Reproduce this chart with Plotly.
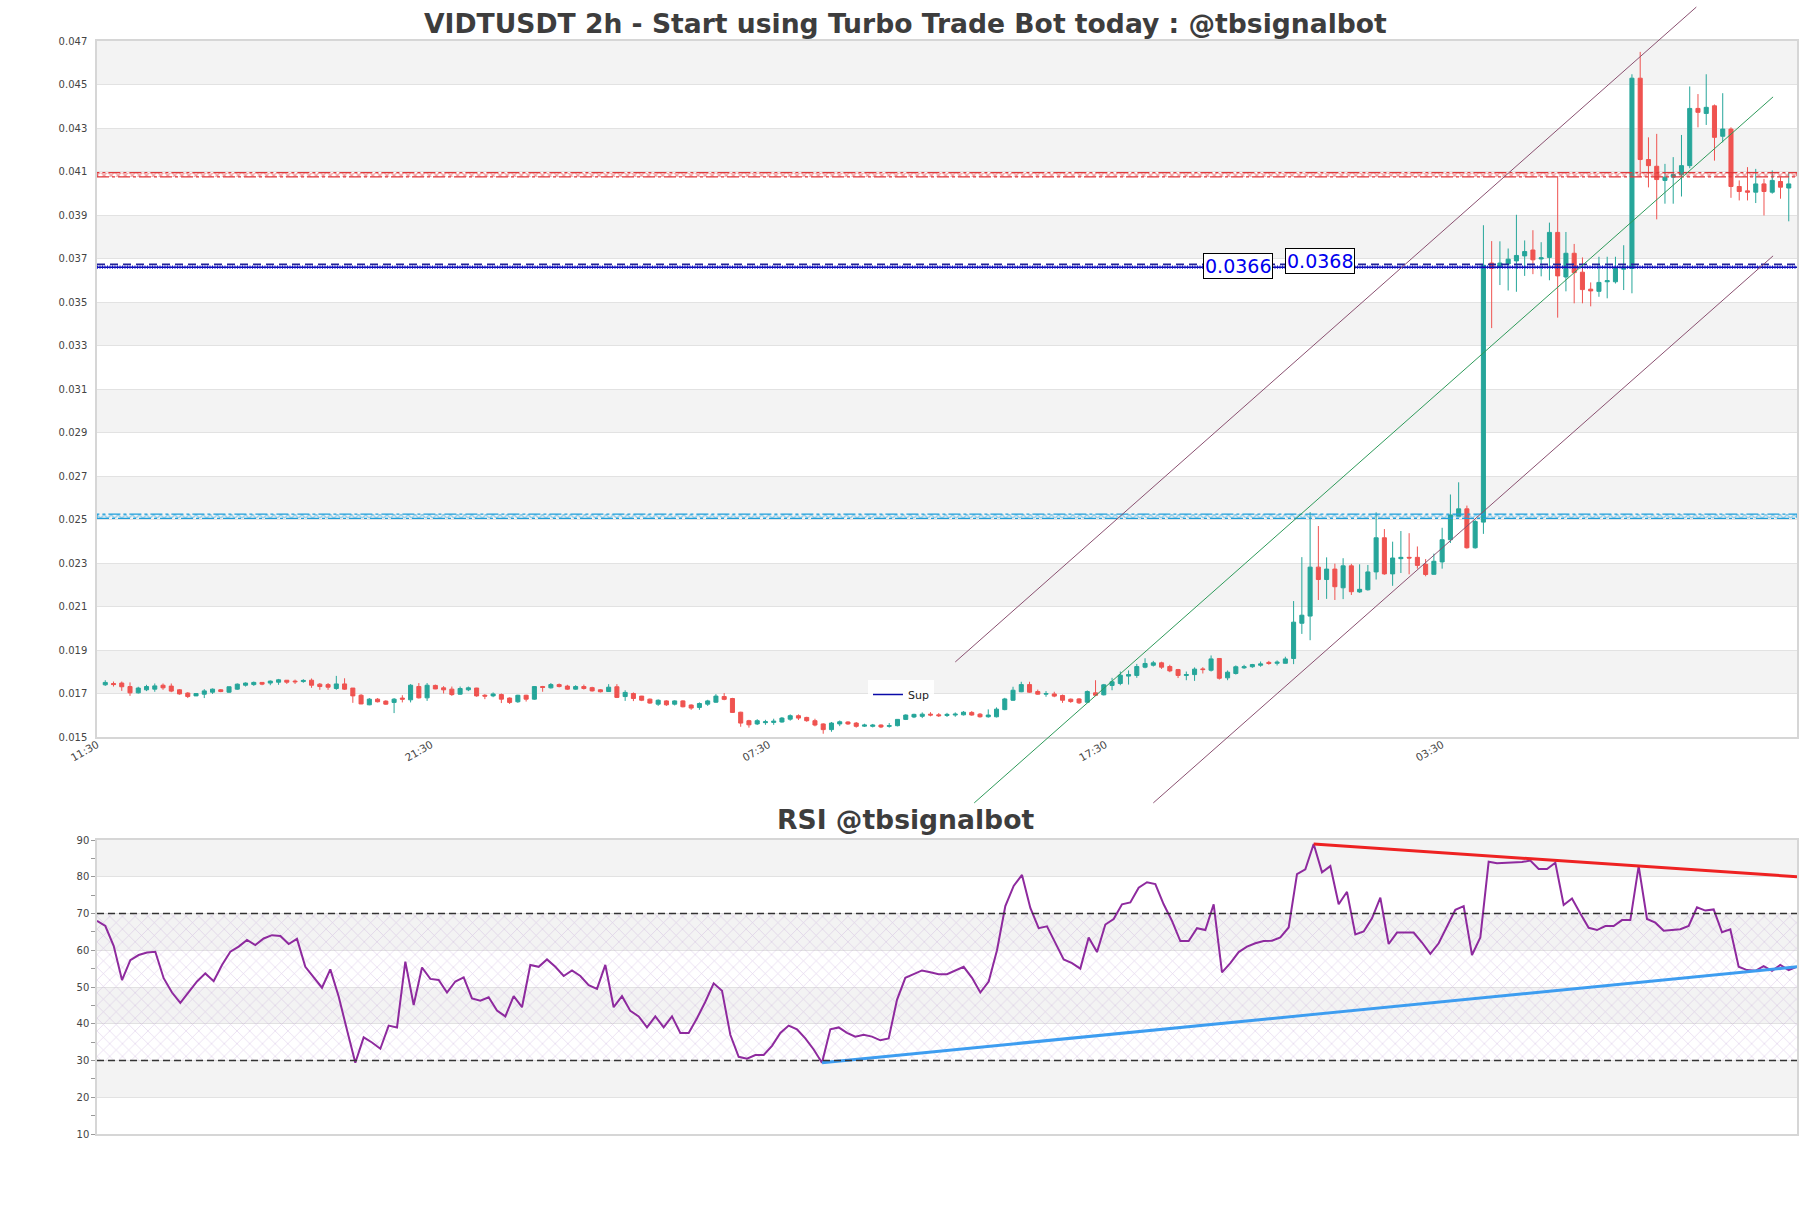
import plotly.graph_objects as go

W, H = 1811, 1208
FONT = "DejaVu Sans"
GREEN, RED = "#26a69a", "#ef5350"

# ---------------- data ----------------
opens = [.01740,.01746,.01748,.01732,.01703,.01717,.01720,.01738,.01734,.01717,
         .01702,.01689,.01697,.01706,.01717,.01706,.01720,.01738,.01741,.01751,
         .01748,.01752,.01761,.01757,.01755,.01761,.01743,.01741,.01723,.01744,
         .01725,.01692,.01648,.01674,.01665,.01659,.01679,.01671,.01732,.01680,
         .01737,.01726,.01720,.01697,.01717,.01725,.01692,.01689,.01695,.01679,
         .01662,.01692,.01674,.01732,.01726,.01741,.01734,.01720,.01732,.01727,
         .01717,.01709,.01731,.01686,.01700,.01688,.01674,.01651,.01666,.01651,
         .01666,.01647,.01636,.01651,.01660,.01686,.01677,.01614,.01575,.01560,
         .01566,.01567,.01569,.01582,.01598,.01590,.01575,.01560,.01534,.01560,
         .01569,.01564,.01550,.01549,.01555,.01549,.01552,.01581,.01592,.01595,
         .01605,.01602,.01599,.01601,.01602,.01613,.01605,.01593,.01593,.01626,
         .01669,.01708,.01741,.01709,.01697,.01698,.01691,.01674,.01675,.01660,
         .01703,.01694,.01737,.01746,.01780,.01783,.01821,.01830,.01841,.01824,
         .01810,.01783,.01787,.01813,.01807,.01861,.01772,.01792,.01818,.01823,
         .01830,.01843,.01839,.01839,.01861,.02023,.02056,.02281,.02224,.02272,
         .02186,.02287,.02167,.02177,.02259,.02416,.02250,.02320,.02326,.02326,
         .02294,.02248,.02305,.02407,.02515,.02549,.02370,.02488,.03679,.03659,
         .03675,.03689,.03712,.03739,.03698,.03705,.03820,.03615,.03724,.03637,
         .03559,.03549,.03593,.03593,.03651,.03654,.04529,.04155,.04124,.04059,
         .04074,.04085,.04127,.04390,.04367,.04402,.04262,.04295,.04031,.04011,
         .04005,.04043,.04005,.04054,.04024]
highs = [.01761,.01755,.01755,.01751,.01731,.01740,.01746,.01746,.01746,.01720,
         .01706,.01700,.01720,.01723,.01720,.01732,.01746,.01751,.01755,.01752,
         .01760,.01767,.01761,.01764,.01766,.01769,.01748,.01748,.01781,.01770,
         .01725,.01697,.01679,.01679,.01669,.01679,.01692,.01743,.01748,.01748,
         .01741,.01734,.01732,.01732,.01732,.01726,.01697,.01705,.01700,.01682,
         .01694,.01694,.01734,.01735,.01748,.01746,.01740,.01738,.01741,.01731,
         .01720,.01743,.01743,.01715,.01705,.01689,.01677,.01673,.01669,.01669,
         .01669,.01650,.01659,.01671,.01697,.01702,.01680,.01616,.01579,.01582,
         .01579,.01584,.01592,.01604,.01604,.01593,.01584,.01563,.01569,.01576,
         .01572,.01569,.01561,.01560,.01558,.01564,.01582,.01604,.01607,.01613,
         .01614,.01610,.01611,.01613,.01619,.01619,.01610,.01627,.01636,.01680,
         .01731,.01754,.01754,.01718,.01711,.01708,.01695,.01677,.01679,.01714,
         .01761,.01744,.01772,.01801,.01806,.01836,.01862,.01850,.01846,.01832,
         .01813,.01801,.01820,.01821,.01875,.01862,.01806,.01829,.01832,.01836,
         .01847,.01850,.01852,.01869,.02125,.02327,.02534,.02470,.02326,.02297,
         .02322,.02296,.02294,.02291,.02533,.02456,.02398,.02447,.02437,.02376,
         .02318,.02343,.02462,.02615,.02671,.02564,.02498,.03853,.03780,.03779,
         .03746,.03901,.03783,.03830,.03775,.03865,.04074,.03822,.03767,.03705,
         .03590,.03708,.03708,.03708,.03761,.04547,.04650,.04257,.04273,.04135,
         .04166,.04268,.04491,.04456,.04547,.04408,.04460,.04303,.04059,.04120,
         .04112,.04066,.04105,.04074,.04097]
lows = [.01735,.01732,.01712,.01689,.01700,.01711,.01708,.01717,.01706,.01695,
        .01679,.01688,.01679,.01698,.01706,.01703,.01717,.01732,.01735,.01738,
        .01738,.01740,.01744,.01744,.01749,.01726,.01717,.01717,.01717,.01717,
        .01657,.01651,.01646,.01659,.01648,.01610,.01659,.01659,.01677,.01666,
        .01720,.01700,.01689,.01695,.01711,.01685,.01674,.01683,.01656,.01652,
        .01657,.01663,.01671,.01708,.01723,.01728,.01717,.01718,.01718,.01709,
        .01705,.01708,.01679,.01666,.01665,.01665,.01653,.01643,.01643,.01645,
        .01636,.01625,.01625,.01643,.01657,.01669,.01611,.01547,.01543,.01555,
        .01556,.01556,.01566,.01575,.01578,.01570,.01549,.01515,.01524,.01550,
        .01556,.01543,.01546,.01544,.01541,.01543,.01549,.01578,.01587,.01587,
        .01595,.01592,.01592,.01593,.01599,.01598,.01589,.01589,.01590,.01623,
        .01666,.01706,.01703,.01695,.01685,.01683,.01657,.01657,.01652,.01657,
        .01688,.01691,.01715,.01738,.01741,.01772,.01816,.01824,.01813,.01798,
        .01771,.01761,.01758,.01792,.01801,.01764,.01761,.01787,.01813,.01818,
        .01823,.01832,.01829,.01838,.01835,.01974,.01945,.02130,.02135,.02130,
        .02134,.02153,.02163,.02173,.02224,.02246,.02195,.02254,.02248,.02274,
        .02239,.02247,.02274,.02392,.02515,.02366,.02366,.02434,.03380,.03578,
        .03553,.03547,.03620,.03628,.03618,.03600,.03428,.03549,.03494,.03494,
        .03480,.03524,.03517,.03585,.03555,.03540,.04074,.04027,.03880,.03952,
        .03952,.03985,.04115,.04303,.04314,.04150,.04234,.03979,.03967,.03967,
        .03955,.03898,.03998,.03975,.03871]
closes = [.01751,.01741,.01731,.01703,.01725,.01732,.01735,.01726,.01711,.01698,
          .01686,.01700,.01712,.01720,.01709,.01731,.01743,.01748,.01751,.01743,
          .01757,.01763,.01752,.01754,.01760,.01738,.01732,.01729,.01744,.01720,
          .01689,.01652,.01674,.01662,.01651,.01674,.01674,.01738,.01680,.01738,
          .01721,.01717,.01695,.01723,.01726,.01689,.01688,.01698,.01674,.01659,
          .01692,.01674,.01732,.01728,.01741,.01732,.01720,.01732,.01723,.01712,
          .01708,.01729,.01682,.01705,.01677,.01669,.01656,.01669,.01648,.01666,
          .01639,.01633,.01654,.01666,.01688,.01673,.01613,.01564,.01556,.01575,
          .01570,.01573,.01587,.01598,.01587,.01575,.01555,.01534,.01564,.01570,
          .01560,.01549,.01555,.01555,.01546,.01552,.01581,.01601,.01604,.01605,
          .01601,.01598,.01604,.01605,.01614,.01601,.01593,.01601,.01628,.01675,
          .01715,.01741,.01706,.01697,.01700,.01688,.01669,.01663,.01657,.01709,
          .01692,.01740,.01754,.01784,.01787,.01824,.01838,.01841,.01821,.01804,
          .01783,.01787,.01812,.01810,.01859,.01770,.01798,.01823,.01823,.01833,
          .01836,.01838,.01844,.01859,.02028,.02060,.02281,.02224,.02272,.02191,
          .02287,.02168,.02179,.02259,.02416,.02250,.02323,.02326,.02323,.02289,
          .02247,.02308,.02407,.02521,.02549,.02370,.02491,.03669,.03655,.03679,
          .03697,.03714,.03732,.03694,.03703,.03820,.03620,.03724,.03635,.03557,
          .03551,.03590,.03598,.03654,.03654,.04529,.04155,.04127,.04063,.04074,
          .04086,.04127,.04390,.04372,.04395,.04257,.04295,.04031,.04008,.04005,
          .04043,.04008,.04059,.04028,.04043]
rsi = [68.0,66.6,61.2,51.9,57.3,58.7,59.4,59.6,52.4,48.5,45.7,48.5,51.5,53.7,51.6,
       56.0,59.6,61.0,62.8,61.4,63.2,64.1,63.9,61.7,63.1,55.5,52.8,49.8,54.8,47.4,
       38.3,29.4,36.3,34.9,33.2,39.5,39.0,56.9,45.1,55.3,52.2,51.9,48.5,51.5,52.6,
       46.9,46.3,47.2,43.6,
       42.0,47.5,44.5,56.0,55.5,57.5,55.5,53.0,54.5,53.0,50.5,49.5,56.0,44.5,47.5,
       43.5,42.0,39.0,42.0,39.0,42.0,37.5,37.5,41.5,46.0,51.0,49.0,37.0,31.0,30.5,
       31.5,31.5,34.0,37.5,39.5,38.5,36.0,33.0,29.4,
       38.5,39.0,37.5,36.5,37.0,36.5,35.5,36.0,46.5,52.5,53.5,54.5,54.0,53.5,53.5,
       54.5,55.5,52.5,48.5,51.5,60.0,72.0,77.5,80.5,71.5,66.0,66.5,62.0,57.5,56.5,
       55.0,63.5,59.5,67.0,68.5,72.5,73.0,77.0,78.5,78.0,72.5,68.0,62.5,62.5,66.0,
       65.5,72.5,54.0,56.5,59.5,
       61.0,61.9,62.5,62.6,63.5,66.2,80.7,82.0,88.9,
       81.2,82.9,72.5,75.9,64.3,65.1,68.7,74.3,61.7,64.8,64.8,64.8,62.1,59.0,61.9,
       66.4,71.0,72.0,58.7,63.5,84.1,
       83.7,83.8,83.8,84.0,84.4,82.1,82.1,83.8,72.3,74.1,70.0,66.1,65.5,66.6,66.6,
       68.2,68.2,82.9,68.5,67.5,65.3,65.5,65.7,66.6,71.7,70.8,71.1,64.9,65.7,55.5,
       54.6,54.4,55.7,54.4,56.0,54.6,55.5]
idx = list(range(len(closes)))

tick_pos = [-0.98, 39.5, 80.4, 121.2, 162.0]
tick_text = ["11:30", "21:30", "07:30", "17:30", "03:30"]
price_ticks = [0.015 + 0.002 * k for k in range(17)]
rsi_ticks = [10, 20, 30, 40, 50, 60, 70, 80, 90]

res_level = 0.04085          # red zone
sup_zone = 0.02515           # cyan zone
sup_dashed = 0.03673         # blue dashed
sup_dotted = 0.03660         # blue dotted ("Sup")
label_texts = ["0.0366", "0.0368"]
label_x = [137.3, 147.2]

chan_up_x, chan_up_y = [103.0, 192.8], [0.01845, 0.04856]
chan_mid_x, chan_mid_y = [105.3, 202.1], [0.01197, 0.04443]
chan_lo_x, chan_lo_y = [127.0, 202.1], [0.01197, 0.03712]

rsi_res_x, rsi_res_y = [146, 204], [88.9, 80.0]
rsi_sup_x, rsi_sup_y = [87, 204], [29.4, 55.5]

# ---------------- geometry ----------------
PX_L, PX_R = 97, 1797
MAIN_T, MAIN_B = 41, 737
RSI_T, RSI_B = 840, 1134
XR = [-1, 205]
YR = [0.015, 0.047]
xd = [PX_L / W, PX_R / W]
yd_main = [1 - MAIN_B / H, 1 - MAIN_T / H]
yd_rsi = [1 - RSI_B / H, 1 - RSI_T / H]

# overlay axes spanning the whole figure, same linear mapping as main axes
sx = (XR[1] - XR[0]) / (xd[1] - xd[0])
sy = (YR[1] - YR[0]) / (yd_main[1] - yd_main[0])
X3 = [XR[0] - xd[0] * sx, XR[1] + (1 - xd[1]) * sx]
Y3 = [YR[0] - yd_main[0] * sy, YR[1] + (1 - yd_main[1]) * sy]

fig = go.Figure()

# candles
fig.add_trace(go.Candlestick(
    x=idx, open=opens, high=highs, low=lows, close=closes,
    increasing=dict(line=dict(color=GREEN, width=1), fillcolor=GREEN),
    decreasing=dict(line=dict(color=RED, width=1), fillcolor=RED),
    showlegend=False, hoverinfo="skip", xaxis="x", yaxis="y"))

# hatched level zones
half = 2.2 / (MAIN_B - MAIN_T) * (YR[1] - YR[0])
for lvl, col in [(res_level, "#e0383b"), (sup_zone, "#1e9fdc")]:
    fig.add_trace(go.Scatter(
        x=[XR[0], XR[1], XR[1], XR[0], XR[0]],
        y=[lvl - half, lvl - half, lvl + half, lvl + half, lvl - half],
        mode="lines", fill="toself", fillcolor="rgba(0,0,0,0)",
        fillpattern=dict(shape="x", fgcolor=col, bgcolor="rgba(0,0,0,0)", size=5, solidity=0.45),
        line=dict(color=col, width=1.2, dash="12px,3px,3px,3px"),
        showlegend=False, hoverinfo="skip", xaxis="x", yaxis="y"))

fig.add_trace(go.Scatter(x=XR, y=[sup_dashed] * 2, mode="lines",
                         line=dict(color="#23239a", width=1.6, dash="8px,5px"),
                         showlegend=False, hoverinfo="skip", xaxis="x", yaxis="y"))
fig.add_trace(go.Scatter(x=XR, y=[sup_dotted] * 2, mode="lines", name="Sup",
                         line=dict(color="#0a0aa8", width=1.5),
                         showlegend=True, hoverinfo="skip", xaxis="x", yaxis="y"))
fig.add_trace(go.Scatter(x=XR, y=[sup_dotted] * 2, mode="lines",
                         line=dict(color="#1414d0", width=3.2, dash="1px,1.5px"),
                         showlegend=False, hoverinfo="skip", xaxis="x", yaxis="y"))

# channel lines on full-figure overlay axes (not clipped)
for cx, cy, col in [(chan_up_x, chan_up_y, "#8a5070"), (chan_mid_x, chan_mid_y, "#2e9a5a"),
                    (chan_lo_x, chan_lo_y, "#8a5070")]:
    fig.add_trace(go.Scatter(x=cx, y=cy, mode="lines", line=dict(color=col, width=1),
                             showlegend=False, hoverinfo="skip", xaxis="x3", yaxis="y3"))

# RSI panel
fig.add_trace(go.Scatter(x=[0, 204, 204, 0, 0], y=[30, 30, 70, 70, 30], mode="lines",
                         fill="toself", fillcolor="rgba(0,0,0,0)",
                         fillpattern=dict(shape="x", fgcolor="rgba(175,135,205,0.75)",
                                          bgcolor="rgba(0,0,0,0)", size=9, solidity=0.14),
                         line=dict(width=0), showlegend=False, hoverinfo="skip",
                         xaxis="x2", yaxis="y2"))
fig.add_trace(go.Scatter(x=idx, y=rsi, mode="lines", line=dict(color="#8e2a9e", width=2),
                         showlegend=False, hoverinfo="skip", xaxis="x2", yaxis="y2"))
fig.add_trace(go.Scatter(x=rsi_res_x, y=rsi_res_y, mode="lines", line=dict(color="#ee2222", width=3),
                         showlegend=False, hoverinfo="skip", xaxis="x2", yaxis="y2"))
fig.add_trace(go.Scatter(x=rsi_sup_x, y=rsi_sup_y, mode="lines", line=dict(color="#3d9df0", width=3),
                         showlegend=False, hoverinfo="skip", xaxis="x2", yaxis="y2"))

shapes = []
# alternating background bands
for k in range(0, len(price_ticks) - 1):
    if k % 2 == 1:
        shapes.append(dict(type="rect", xref="x domain", yref="y", x0=0, x1=1,
                           y0=price_ticks[k], y1=price_ticks[k + 1],
                           fillcolor="#f3f3f3", line=dict(width=0), layer="below"))
for k in range(0, len(rsi_ticks) - 1):
    if k % 2 == 1:
        shapes.append(dict(type="rect", xref="x2 domain", yref="y2", x0=0, x1=1,
                           y0=rsi_ticks[k], y1=rsi_ticks[k + 1],
                           fillcolor="#f3f3f3", line=dict(width=0), layer="below"))
for lv in (70, 30):
    shapes.append(dict(type="line", xref="x2 domain", yref="y2", x0=0, x1=1, y0=lv, y1=lv,
                       line=dict(color="#333333", width=1.3, dash="7px,4px")))

TITLE_SIZE = 26.6
ann = [
    dict(text="<b>VIDTUSDT 2h - Start using Turbo Trade Bot today : @tbsignalbot</b>",
         xref="paper", yref="paper", x=0.5, y=1 - 23 / H, showarrow=False,
         font=dict(family=FONT, size=TITLE_SIZE, color="#3d3d3d"), xanchor="center", yanchor="middle"),
    dict(text="<b>RSI @tbsignalbot</b>", xref="paper", yref="paper", x=0.5, y=1 - 819 / H,
         showarrow=False, font=dict(family=FONT, size=TITLE_SIZE, color="#3d3d3d"),
         xanchor="center", yanchor="middle"),
]
for t, xx, yy, ys in [(label_texts[0], label_x[0], sup_dotted, 1), (label_texts[1], label_x[1], sup_dashed, 3)]:
    ann.append(dict(text=t, x=xx, y=yy, xref="x", yref="y", showarrow=False, yshift=ys,
                    font=dict(family=FONT, size=19, color="#0000ee"),
                    bgcolor="white", bordercolor="black", borderwidth=1, borderpad=1))

axis_common = dict(showline=True, linecolor="#d6d6d6", linewidth=1.5, mirror=True,
                   zeroline=False, automargin=False)
fig.update_layout(
    width=W, height=H, autosize=False, margin=dict(l=0, r=0, t=0, b=0, pad=0),
    paper_bgcolor="white", plot_bgcolor="rgba(0,0,0,0)",
    font=dict(family=FONT, color="#444"),
    shapes=shapes, annotations=ann,
    showlegend=True,
    legend=dict(x=0.4975, y=1 - 694.5 / H, xanchor="center", yanchor="middle",
                bgcolor="rgba(255,255,255,0.85)", font=dict(family=FONT, size=11, color="#222"),
                itemwidth=30, borderwidth=0),
    xaxis=dict(domain=xd, range=XR, anchor="y", tickvals=tick_pos, ticktext=tick_text,
               tickangle=-30, tickfont=dict(size=10.5, color="#444"), showgrid=False,
               rangeslider=dict(visible=False), ticks="", ticklabelstandoff=-4, **axis_common),
    yaxis=dict(domain=yd_main, range=YR, anchor="x", tickvals=price_ticks, tickformat=".3f",
               tickfont=dict(size=10, color="#444"), showgrid=True, gridcolor="#e2e2e2",
               ticks="", ticklabelstandoff=6, **axis_common),
    xaxis2=dict(domain=xd, range=[0, 204], anchor="y2", showticklabels=False, showgrid=False,
                ticks="", **axis_common),
    yaxis2=dict(domain=yd_rsi, range=[10, 90], anchor="x2", tickvals=rsi_ticks,
                tickfont=dict(size=10, color="#444"), showgrid=True, gridcolor="#e2e2e2",
                ticks="outside", ticklen=4, tickcolor="#999",
                minor=dict(dtick=5, ticks="outside", ticklen=4, tickcolor="#999", showgrid=False),
                **axis_common),
    xaxis3=dict(domain=[0, 1], range=X3, anchor="y3", visible=False, fixedrange=True, automargin=False),
    yaxis3=dict(domain=[0, 1], range=Y3, anchor="x3", visible=False, fixedrange=True, automargin=False),
)

fig.write_html("out.html")
